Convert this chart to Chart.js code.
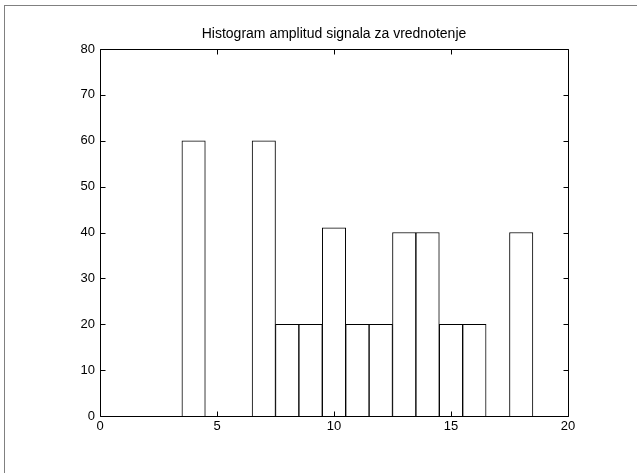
<!DOCTYPE html>
<html>
<head>
<meta charset="utf-8">
<script src="https://cdn.jsdelivr.net/npm/chart.js@4/dist/chart.umd.min.js"></script>
<style>
  html, body { margin: 0; padding: 0; background: #fff; }
  #wrap { position: relative; width: 637px; height: 473px; overflow: hidden; }
  #frame { position: absolute; left: 4px; top: 5px; width: 700px; height: 600px;
           border-top: 1px solid #808080; border-left: 1px solid #808080; pointer-events: none; }
  canvas { position: absolute; left: 0; top: 0; }
</style>
</head>
<body>
<div id="wrap">
  <canvas id="c" width="637" height="473"></canvas>
  <div id="frame"></div>
</div>
<script>
// ---- data ----
const titleText = 'Histogram amplitud signala za vrednotenje';
const binCenters = [0,1,2,3,4,5,6,7,8,9,10,11,12,13,14,15,16,17,18,19,20];
const counts     = [0,0,0,0,60,0,0,60,20,20,41,20,20,40,40,20,20,0,40,0,0];
const xRange = [0, 20];
const yRange = [0, 80];
const xStep = 5;
const yStep = 10;

const points = binCenters.map((c, i) => ({ x: c, y: counts[i] }));

const FONT = "'Liberation Sans', Arial, Helvetica, sans-serif";

const boxPlugin = {
  id: 'matlabBox',
  afterDatasetsDraw(chart) {
    const { ctx, chartArea: a, scales } = chart;
    const L = Math.round(a.left) + 0.5, R = Math.round(a.right) + 0.5;
    const T = Math.round(a.top) + 0.5, B = Math.round(a.bottom) + 0.5;
    const tl = 5;
    ctx.save();
    ctx.strokeStyle = '#000';
    ctx.lineWidth = 1;
    ctx.beginPath();
    ctx.rect(L, T, R - L, B - T);
    scales.x.ticks.forEach(t => {
      const px = Math.round(scales.x.getPixelForValue(t.value)) + 0.5;
      ctx.moveTo(px, B); ctx.lineTo(px, B - tl);
      ctx.moveTo(px, T); ctx.lineTo(px, T + tl);
    });
    scales.y.ticks.forEach(t => {
      const py = Math.round(scales.y.getPixelForValue(t.value)) + 0.5;
      ctx.moveTo(L, py); ctx.lineTo(L + tl, py);
      ctx.moveTo(R, py); ctx.lineTo(R - tl, py);
    });
    ctx.stroke();
    ctx.restore();
  }
};

new Chart(document.getElementById('c'), {
  type: 'bar',
  data: {
    datasets: [{
      data: points,
      backgroundColor: '#ffffff',
      borderColor: '#000000',
      borderWidth: 1,
      barPercentage: 1.0,
      categoryPercentage: 1.0
    }]
  },
  options: {
    responsive: false,
    animation: false,
    devicePixelRatio: 1,
    layout: { padding: { left: 0, right: 69, top: 0, bottom: 0 } },
    plugins: {
      legend: { display: false },
      tooltip: { enabled: false },
      title: {
        display: true,
        text: titleText,
        fullSize: false,
        color: '#000',
        font: { family: FONT, size: 14, weight: 'normal' },
        padding: { top: 26, bottom: 6.2 }
      }
    },
    scales: {
      x: {
        type: 'linear',
        min: xRange[0], max: xRange[1],
        offset: false,
        grid: { display: false, drawTicks: false },
        border: { display: false },
        ticks: { stepSize: xStep, color: '#000', padding: 3,
                 font: { family: FONT, size: 13 }, maxRotation: 0 },
        afterFit(s) { s.height = 57; }
      },
      y: {
        type: 'linear',
        min: yRange[0], max: yRange[1],
        grid: { display: false, drawTicks: false },
        border: { display: false },
        ticks: { stepSize: yStep, color: '#000', padding: 5,
                 font: { family: FONT, size: 13 } },
        afterFit(s) { s.width = 100; }
      }
    }
  },
  plugins: [boxPlugin]
});
</script>
</body>
</html>
